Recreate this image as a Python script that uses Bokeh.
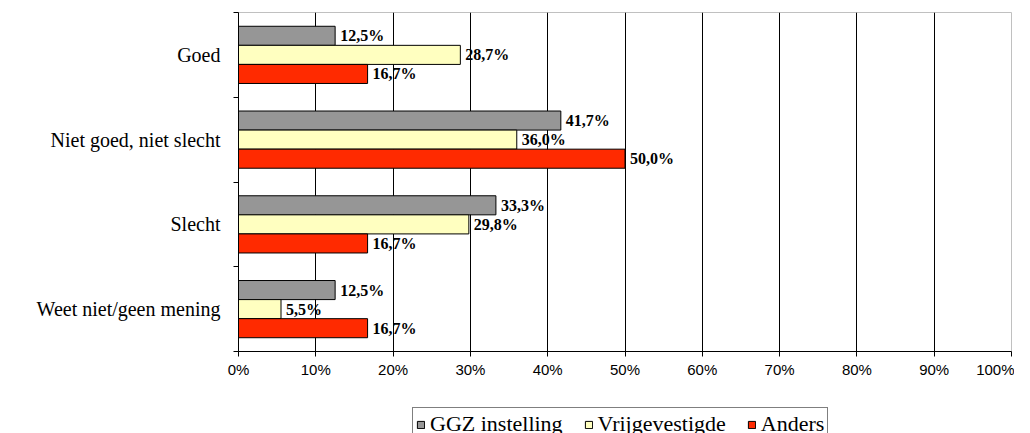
from bokeh.plotting import figure
from bokeh.layouts import column
from bokeh.models import (Range1d, FixedTicker, PrintfTickFormatter, ColumnDataSource,
                          Legend, LegendItem)
from bokeh.core.properties import value
from bokeh.embed import file_html
from bokeh.resources import INLINE

categories = ["Goed", "Niet goed, niet slecht", "Slecht", "Weet niet/geen mening"]
series_names = ["GGZ instelling", "Vrijgevestigde", "Anders"]
ggz = [12.5, 41.7, 33.3, 12.5]
vrij = [28.7, 36.0, 29.8, 5.5]
anders = [16.7, 50.0, 16.7, 16.7]
colors = ["#969696", "#FFFFC0", "#FF2A00"]
x_ticks = [0, 10, 20, 30, 40, 50, 60, 70, 80, 90, 100]

n = len(categories)
centers = [n - 0.5 - i for i in range(n)]
bar_h = 0.225
offsets = [bar_h, 0.0, -bar_h]

p = figure(width=1014, height=406, output_backend="svg", toolbar_location=None, tools="",
           x_range=Range1d(0, 100), y_range=Range1d(0, n),
           min_border_left=238, min_border_right=3, min_border_top=12, min_border_bottom=55)

p.background_fill_color = "white"
p.border_fill_color = "white"
p.outline_line_color = "#c0c0c0"

sources = []
for vals, col, off in zip([ggz, vrij, anders], colors, offsets):
    ys = [c + off for c in centers]
    labels = [("%.1f%%" % v).replace(".", ",") for v in vals]
    src = ColumnDataSource(dict(y=ys, right=vals, lab=labels))
    sources.append(src)
    p.hbar(y="y", right="right", left=0, height=bar_h, source=src,
           fill_color=col, line_color="#000000", line_width=1)
    p.text(x="right", y="y", text="lab", source=src, x_offset=5,
           text_baseline="middle", text_align="left",
           text_font=value("Liberation Serif"), text_font_style="bold",
           text_font_size="16px", text_color="#000000")

# x axis
p.xaxis.ticker = FixedTicker(ticks=x_ticks)
p.xaxis.formatter = PrintfTickFormatter(format="%d%%")
p.xaxis.axis_line_color = "#000000"
p.xaxis.major_tick_line_color = "#000000"
p.xaxis.major_tick_out = 5
p.xaxis.major_tick_in = 0
p.xaxis.minor_tick_line_color = None
p.xaxis.major_label_standoff = 4
p.xaxis.major_label_text_font = "Liberation Sans"
p.xaxis.major_label_text_font_size = "15px"
p.xaxis.major_label_text_color = "#000000"

# y axis
p.yaxis.ticker = FixedTicker(ticks=centers, minor_ticks=list(range(n + 1)))
p.yaxis.major_label_overrides = {c: cat for c, cat in zip(centers, categories)}
p.yaxis.axis_line_color = "#000000"
p.yaxis.major_tick_line_color = None
p.yaxis.major_tick_out = 0
p.yaxis.major_tick_in = 0
p.yaxis.minor_tick_line_color = "#000000"
p.yaxis.minor_tick_out = 5
p.yaxis.minor_tick_in = 0
p.yaxis.major_label_standoff = 13
p.yaxis.major_label_text_font = "Liberation Serif"
p.yaxis.major_label_text_font_size = "20px"
p.yaxis.major_label_text_color = "#000000"

# grid
p.xgrid.ticker = FixedTicker(ticks=x_ticks)
p.xgrid.grid_line_color = "#000000"
p.xgrid.grid_line_width = 1
p.ygrid.grid_line_color = None

# legend strip (separate small figure so the legend is not clipped by the main frame);
# its bars lie outside its ranges, only their legend swatches show
lg = figure(width=1014, height=27, output_backend="svg", toolbar_location=None, tools="",
            x_range=Range1d(1000, 1001), y_range=Range1d(1000, 1001),
            min_border_left=0, min_border_right=0, min_border_top=0, min_border_bottom=0)
lg.axis.visible = False
lg.grid.grid_line_color = None
lg.outline_line_color = None
lg.background_fill_color = "white"
lg.border_fill_color = "white"

legend_renderers = []
for col, src in zip(colors, sources):
    r = lg.hbar(y="y", right="right", left=0, height=bar_h, source=src,
                fill_color=col, line_color="#000000", line_width=1)
    legend_renderers.append(r)

legend = Legend(items=[LegendItem(label=nm, renderers=[r]) for nm, r in zip(series_names, legend_renderers)],
                orientation="horizontal", location=(174, -8),
                label_text_font="Liberation Serif", label_text_font_size="22px",
                label_text_color="#000000",
                glyph_width=9, glyph_height=9, spacing=21, label_standoff=5,
                padding=3, margin=0,
                border_line_color="#000000", border_line_width=1,
                background_fill_color="white", background_fill_alpha=1)
lg.add_layout(legend, "center")

layout = column(p, lg, spacing=0)
open("out.html", "w").write(file_html(layout, INLINE))
